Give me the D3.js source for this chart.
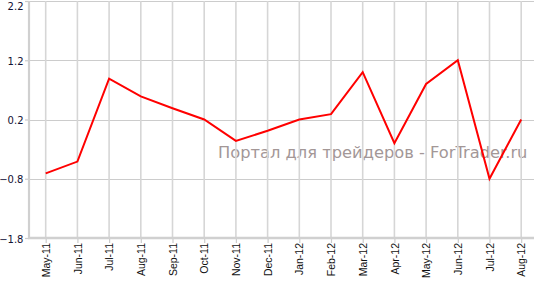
<!DOCTYPE html>
<html><head><meta charset="utf-8">
<script src="https://cdn.jsdelivr.net/npm/d3@7"></script>
<style>body{margin:0;background:#fff}svg{display:block}</style>
</head><body>
<script>
const categories = ["May-11","Jun-11","Jul-11","Aug-11","Sep-11","Oct-11","Nov-11","Dec-11","Jan-12","Feb-12","Mar-12","Apr-12","May-12","Jun-12","Jul-12","Aug-12"];
const values = [-0.71,-0.51,0.89,0.59,0.39,0.2,-0.16,0.01,0.2,0.29,1.0,-0.2,0.8,1.2,-0.8,0.2];
const yTicks = [-1.8,-0.8,0.2,1.2,2.2];
const watermark = "Портал для трейдеров - ForTrader.ru";

const W=534,H=284;
const svg=d3.select("body").append("svg").attr("width",W).attr("height",H);
const mLeft=29, mTop=1, mBottom=238;
const step=31.7;
const x=d3.scalePoint().domain(categories).range([45.7,45.7+step*15]);
const y=d3.scaleLinear().domain([-1.8,2.2]).range([mBottom,mTop]);

// watermark
svg.append("text").attr("x",218).attr("y",158).attr("fill","#a39797")
  .attr("font-family","DejaVu Sans, Verdana, sans-serif").attr("font-size",16.3)
  .text(watermark);

// horizontal grid
svg.append("g").selectAll("line").data(yTicks.filter(d=>d>-1.8)).join("line")
  .attr("x1",mLeft).attr("x2",W).attr("y1",d=>Math.round(y(d))+0.5).attr("y2",d=>Math.round(y(d))+0.5)
  .attr("stroke","#cccccc").attr("stroke-width",1.2);
// vertical grid
svg.append("g").selectAll("line").data(categories).join("line")
  .attr("x1",d=>x(d)).attr("x2",d=>x(d)).attr("y1",mTop).attr("y2",mBottom)
  .attr("stroke","#d6d6d6").attr("stroke-width",1.6);

// y axis
const ya=svg.append("g").attr("transform",`translate(${mLeft},0)`)
  .call(d3.axisLeft(y).tickValues(yTicks).tickFormat(d3.format(".1f")).tickSize(4).tickPadding(1.5));
ya.select(".domain").remove();
ya.selectAll(".tick line").attr("stroke","#cccccc").attr("stroke-width",1.2);
ya.selectAll("text").attr("font-family","DejaVu Sans, Verdana, sans-serif").attr("font-size",10).attr("fill","#111133")
  .attr("dy",d=> d===2.2 ? "0.85em" : "0.4em");
svg.append("line").attr("x1",mLeft).attr("x2",mLeft).attr("y1",mTop).attr("y2",mBottom+1)
  .attr("stroke","#d0d0d0").attr("stroke-width",2.2);

// x axis
const xa=svg.append("g").attr("transform",`translate(0,${mBottom})`)
  .call(d3.axisBottom(x).tickSize(5).tickPadding(3));
xa.select(".domain").remove();
xa.selectAll(".tick line").attr("stroke","#cccccc").attr("stroke-width",1.2);
xa.selectAll("text").attr("font-family","Liberation Sans, Arial, sans-serif").attr("font-size",10.5).attr("fill","#111111")
  .attr("transform","rotate(-90)").attr("text-anchor","end").attr("x",-5).attr("y",0).attr("dy","0.35em");
svg.append("line").attr("x1",mLeft-1).attr("x2",W).attr("y1",mBottom).attr("y2",mBottom)
  .attr("stroke","#d0d0d0").attr("stroke-width",2.4);

// line
svg.append("path").datum(values.map((v,i)=>[categories[i],v]))
  .attr("fill","none").attr("stroke","#ff0000").attr("stroke-width",2)
  .attr("stroke-linejoin","miter")
  .attr("d",d3.line().x(d=>x(d[0])).y(d=>y(d[1])));
</script>
</body></html>
